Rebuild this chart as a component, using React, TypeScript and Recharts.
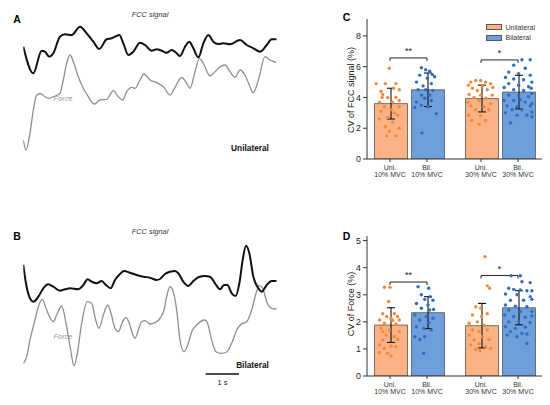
import React from "react";
import {
  LineChart,
  Line,
  XAxis,
  YAxis,
  ComposedChart,
  Bar,
  ErrorBar,
  Scatter,
  ReferenceLine,
} from "recharts";

// ---- traces (time in s, amplitude in arbitrary units) ----
const fccUniTrace = [
  [0, 15.33], [0.3, 12.67], [0.55, 14.93], [0.65, 14.83], [0.78, 14.33], [0.9, 14.67],
  [1.1, 16.33], [1.25, 16.57], [1.45, 16.5], [1.7, 17.33], [1.9, 16.67], [2.1, 15.83],
  [2.28, 15.1], [2.5, 16.07], [2.65, 16.17], [2.75, 16.33], [2.88, 16.5], [3.0, 15.67],
  [3.15, 14.5], [3.3, 14.83], [3.5, 15.73], [3.65, 15.5], [3.85, 14.93], [4.0, 15.07],
  [4.15, 14.93], [4.3, 14.73], [4.45, 15.0], [4.6, 14.67], [4.7, 14.4], [4.85, 15.33],
  [4.98, 15.83], [5.1, 15.17], [5.25, 14.27], [5.4, 15.67], [5.55, 16.5], [5.7, 15.83],
  [5.85, 15.6], [6.0, 15.67], [6.2, 15.57], [6.5, 16.0], [6.7, 15.5], [6.9, 15.17],
  [7.1, 14.83], [7.3, 15.5], [7.45, 16.07], [7.6, 16.07],
];
const forceUniTrace = [
  [0, 6.0], [0.08, 5.0], [0.2, 6.67], [0.3, 9.0], [0.4, 10.5], [0.5, 10.67], [0.65, 10.33],
  [0.78, 10.17], [0.9, 10.33], [1.1, 10.67], [1.2, 12.0], [1.3, 13.67], [1.4, 14.5],
  [1.5, 13.83], [1.65, 12.33], [1.8, 11.17], [1.95, 10.33], [2.13, 9.6], [2.3, 10.0],
  [2.5, 10.07], [2.7, 10.93], [2.85, 10.33], [2.98, 10.0], [3.1, 10.83], [3.25, 11.27],
  [3.35, 11.17], [3.5, 12.0], [3.62, 12.6], [3.8, 12.0], [4.0, 11.73], [4.2, 11.33],
  [4.4, 10.5], [4.55, 11.27], [4.75, 12.27], [4.9, 11.67], [5.0, 11.17], [5.15, 12.83],
  [5.28, 14.17], [5.4, 13.67], [5.6, 12.4], [5.75, 12.83], [5.9, 13.33], [6.05, 13.5],
  [6.2, 12.83], [6.35, 12.27], [6.5, 13.0], [6.65, 12.5], [6.8, 11.33], [6.9, 10.73],
  [7.05, 12.0], [7.25, 14.33], [7.4, 14.0], [7.58, 13.77],
];
const fccBilTrace = [
  [0, 13.5], [0.08, 11.67], [0.18, 10.33], [0.3, 9.83], [0.45, 10.33], [0.6, 11.17],
  [0.75, 11.57], [0.9, 11.33], [1.1, 10.93], [1.25, 11.07], [1.4, 11.17], [1.65, 11.07],
  [1.8, 11.5], [1.93, 12.07], [2.05, 11.83], [2.2, 11.67], [2.35, 11.9], [2.48, 11.5],
  [2.62, 11.17], [2.75, 12.0], [2.9, 12.6], [3.02, 12.9], [3.2, 12.73], [3.4, 12.5],
  [3.6, 12.33], [3.8, 12.23], [4.0, 12.0], [4.1, 12.1], [4.25, 12.6], [4.4, 12.83],
  [4.55, 12.9], [4.65, 12.67], [4.8, 11.83], [4.95, 11.4], [5.1, 11.9], [5.25, 12.27],
  [5.45, 12.4], [5.6, 12.33], [5.75, 11.67], [5.9, 11.07], [6.02, 11.5], [6.12, 11.5],
  [6.25, 10.67], [6.37, 10.4], [6.48, 11.67], [6.58, 14.0], [6.68, 15.43], [6.78, 14.67],
  [6.9, 12.33], [7.05, 11.17], [7.15, 10.83], [7.3, 11.5], [7.45, 11.9], [7.6, 11.9],
];
const forceBilTrace = [
  [0, 3.67], [0.1, 4.33], [0.2, 6.0], [0.35, 8.0], [0.45, 9.33], [0.57, 10.07], [0.7, 9.0],
  [0.9, 7.83], [1.02, 8.67], [1.15, 9.4], [1.3, 7.33], [1.42, 5.0], [1.52, 3.43],
  [1.62, 4.67], [1.75, 7.67], [1.92, 9.83], [2.05, 9.67], [2.17, 8.0], [2.27, 7.17],
  [2.4, 8.5], [2.53, 9.5], [2.63, 8.67], [2.75, 7.17], [2.85, 6.83], [2.98, 7.83],
  [3.08, 8.27], [3.18, 7.67], [3.27, 6.67], [3.35, 6.17], [3.45, 7.0], [3.55, 7.83],
  [3.65, 7.93], [3.8, 7.6], [3.95, 7.73], [4.12, 8.27], [4.22, 9.0], [4.3, 10.33],
  [4.4, 11.33], [4.48, 11.0], [4.6, 9.0], [4.7, 6.0], [4.82, 4.83], [4.95, 5.67],
  [5.05, 6.83], [5.2, 7.5], [5.45, 8.0], [5.52, 7.73], [5.65, 6.0], [5.78, 4.83],
  [5.95, 4.67], [6.1, 4.8], [6.27, 5.83], [6.4, 7.0], [6.53, 7.57], [6.7, 7.83],
  [6.85, 9.0], [6.98, 10.67], [7.07, 11.43], [7.18, 11.17], [7.3, 9.83], [7.45, 9.17],
  [7.6, 9.1],
];

// ---- bar panels ----
const groups = ["10% MVC", "30% MVC"];
const conditionLabels = ["Uni.", "Bil.", "Uni.", "Bil."];
const mvcLabels = ["10% MVC", "10% MVC", "30% MVC", "30% MVC"];

const fccUniMean = [3.6, 3.93];
const fccUniSd = [1.0, 0.87];
const fccBilMean = [4.5, 4.35];
const fccBilSd = [1.09, 1.09];
const forceUniMean = [1.88, 1.86];
const forceUniSd = [0.64, 0.82];
const forceBilMean = [2.34, 2.52];
const forceBilSd = [0.59, 0.63];

// individual subjects: [jitter as fraction of bar width, value]
const fccUni10 = [
  [-0.02, 5.9], [-0.42, 4.9], [-0.14, 4.9], [0.18, 4.9], [-0.27, 4.4], [0.11, 4.6],
  [-0.22, 4.2], [-0.07, 4.0], [0.18, 4.0], [0.28, 3.8], [-0.32, 3.7], [0.08, 3.7],
  [-0.17, 3.4], [0.28, 3.4], [-0.27, 3.1], [0.13, 3.0], [-0.07, 2.7], [0.23, 2.85],
  [-0.32, 2.6], [0.08, 2.4], [-0.14, 2.1], [0.28, 2.0], [-0.02, 1.8], [0.18, 1.5],
  [-0.1, 1.5], [0.28, 4.5], [-0.24, 4.0], [0.03, 3.2],
];
const fccBil10 = [
  [-0.17, 5.93], [-0.04, 5.8], [0.08, 5.7], [0.16, 5.5], [-0.22, 5.45], [0.23, 5.35],
  [0.01, 5.25], [-0.32, 5.0], [0.13, 4.9], [-0.12, 4.75], [-0.27, 4.5], [0.18, 4.45],
  [-0.17, 4.15], [0.08, 4.15], [-0.07, 3.95], [-0.32, 3.7], [0.13, 3.8], [-0.17, 3.5],
  [0.03, 3.4], [-0.37, 3.35], [0.28, 2.95], [-0.15, 1.7], [-0.04, 4.5],
];
const fccUni30 = [
  [-0.31, 5.0], [-0.16, 5.1], [-0.01, 5.1], [0.14, 5.0], [0.29, 4.9], [-0.38, 4.8],
  [0.04, 4.75], [-0.26, 4.6], [0.36, 4.65], [-0.11, 4.45], [0.19, 4.5], [-0.36, 4.2],
  [-0.01, 4.15], [0.34, 4.15], [-0.21, 4.0], [0.14, 3.95], [-0.4, 3.7], [-0.06, 3.8],
  [0.29, 3.6], [-0.31, 3.45], [0.09, 3.4], [-0.16, 3.2], [0.24, 3.2], [-0.38, 2.85],
  [-0.01, 2.8], [-0.28, 2.5], [0.14, 2.5], [-0.06, 2.25],
];
const fccBil30 = [
  [0.12, 6.45], [0.37, 6.45], [-0.13, 6.1], [0.22, 5.9], [-0.28, 5.65], [0.02, 5.55],
  [0.37, 5.45], [-0.38, 5.3], [-0.13, 5.2], [0.17, 5.15], [0.42, 5.0], [-0.28, 4.9],
  [0.02, 4.8], [0.32, 4.7], [-0.42, 4.65], [-0.13, 4.5], [0.17, 4.45], [0.42, 4.25],
  [-0.28, 4.15], [0.02, 4.1], [0.32, 4.05], [-0.42, 3.8], [-0.13, 3.8], [0.22, 3.7],
  [0.42, 3.6], [-0.33, 3.45], [-0.03, 3.4], [0.37, 3.45], [-0.18, 3.2], [0.12, 3.2],
  [0.42, 3.05], [-0.38, 3.0], [-0.03, 2.85], [0.27, 2.85], [0.42, 2.75], [-0.23, 2.35],
  [0.07, 3.85], [0.4, 4.6],
];
const forceUni10 = [
  [-0.17, 3.28], [0.0, 3.28], [-0.04, 2.75], [-0.22, 2.3], [0.13, 2.3], [-0.1, 2.2],
  [0.03, 2.13], [0.23, 2.2], [-0.32, 2.07], [0.08, 2.05], [0.28, 2.07], [-0.17, 1.95],
  [0.18, 1.92], [-0.27, 1.76], [-0.02, 1.7], [0.28, 1.64], [-0.12, 1.51], [0.13, 1.45],
  [-0.22, 1.33], [0.23, 1.35], [-0.32, 1.15], [0.03, 1.1], [-0.17, 1.02], [-0.07, 0.84],
  [-0.32, 0.86], [0.03, 0.74], [0.18, 1.08], [-0.22, 1.64],
];
const forceBil10 = [
  [-0.27, 3.3], [0.05, 3.24], [-0.17, 3.0], [0.1, 2.93], [-0.07, 2.83], [0.18, 2.8],
  [-0.32, 2.68], [0.03, 2.62], [-0.17, 2.5], [0.2, 2.46], [-0.37, 2.25], [-0.02, 2.2],
  [0.18, 2.13], [-0.22, 2.07], [0.06, 1.97], [-0.32, 1.82], [-0.1, 1.76], [0.13, 1.7],
  [-0.37, 1.45], [-0.07, 1.45], [-0.22, 1.35], [-0.1, 0.84], [0.08, 2.44],
];
const forceUni30 = [
  [0.12, 4.41], [0.19, 3.33], [0.26, 3.24], [-0.16, 2.56], [-0.01, 2.5], [0.19, 2.3],
  [-0.26, 2.25], [0.02, 2.2], [-0.11, 2.0], [-0.36, 1.95], [0.09, 1.88], [-0.26, 1.7],
  [-0.06, 1.64], [0.19, 1.7], [-0.36, 1.51], [0.04, 1.45], [-0.21, 1.33], [0.24, 1.35],
  [-0.06, 1.2], [-0.31, 1.15], [0.14, 1.08], [-0.16, 0.99], [-0.03, 0.93], [0.29, 1.02],
];
const forceBil30 = [
  [-0.21, 3.7], [0.07, 3.7], [0.12, 3.48], [0.37, 3.45], [-0.28, 3.24], [-0.13, 3.2],
  [0.07, 3.18], [0.27, 3.15], [0.42, 3.15], [-0.38, 3.03], [-0.03, 3.0], [0.37, 2.93],
  [-0.23, 2.8], [0.17, 2.8], [0.42, 2.83], [-0.38, 2.62], [-0.08, 2.58], [0.27, 2.56],
  [-0.28, 2.44], [0.07, 2.38], [0.42, 2.38], [-0.4, 2.25], [-0.13, 2.2], [0.22, 2.17],
  [0.42, 2.22], [-0.28, 2.0], [0.02, 2.0], [0.37, 1.97], [-0.38, 1.82], [-0.08, 1.76],
  [0.22, 1.8], [-0.23, 1.64], [0.12, 1.58], [-0.33, 1.51], [-0.03, 1.45], [0.27, 1.55],
  [0.27, 1.2],
];

const sigLabels = ["**", "*"];
const fccBracket = [6.57, 6.44];
const forceBracket = [3.47, 3.71];

// ---- styling / layout ----
const FONT = '"Liberation Sans", Arial, sans-serif';
const UNI_FILL = "#FBB285";
const BIL_FILL = "#6E9EDB";
const UNI_DOT = "#F4893A";
const BIL_DOT = "#2E6DC0";
const BAND = 91;
const BAR = 33;
const GAP = 4;
const PAD = -3.5;
const barFrac = BAR / BAND;
const barCenter = (g: number, b: number) =>
  g + (Math.floor((BAND - 2 * BAR - GAP) / 2) + BAR / 2 + b * (BAR + GAP)) / BAND;
const tickPos = [barCenter(0, 0), barCenter(0, 1), barCenter(1, 0), barCenter(1, 1)];

const toPts = (arr: number[][]) => arr.map(([t, v]) => ({ t, v }));
const toDots = (arr: number[][], g: number, b: number) =>
  arr.map(([j, y]) => ({ x: barCenter(g, b) + j * barFrac, y }));

const Txt = ({ x, y, children, style, rotate }: any) => (
  <div
    style={{
      position: "absolute",
      left: x,
      top: y,
      transform: `translate(-50%, -50%)${rotate ? ` rotate(${rotate}deg)` : ""}`,
      whiteSpace: "nowrap",
      lineHeight: 1,
      ...style,
    }}
  >
    {children}
  </div>
);

const BarTick = ({ x, y, payload }: any) => {
  let i = tickPos.findIndex((p) => Math.abs(p - payload.value) < 1e-6);
  if (i < 0) i = 0;
  return (
    <g>
      <text x={x} y={y + 5.5} textAnchor="middle" fontSize={7} fill="#333">
        {conditionLabels[i]}
      </text>
      <text x={x} y={y + 12.8} textAnchor="middle" fontSize={7} fill="#333">
        {mvcLabels[i]}
      </text>
    </g>
  );
};

const Dot = (color: string) => (p: any) => <circle cx={p.cx} cy={p.cy} r={1.7} fill={color} />;

const TracePanel = ({ fcc, force, top, scale }: any) => (
  <div style={{ position: "absolute", left: 0, top }}>
    <LineChart width={290} height={200} margin={{ top: 0, right: 13.3, bottom: 0, left: 23.3 }}>
      <XAxis type="number" dataKey="t" domain={[0, 7.6]} hide allowDataOverflow />
      <YAxis type="number" domain={[0, 20]} hide allowDataOverflow />
      <Line data={toPts(force)} dataKey="v" type="monotone" stroke="#8e8e8e" strokeWidth={1.3} dot={false} isAnimationActive={false} />
      <Line data={toPts(fcc)} dataKey="v" type="monotone" stroke="#111" strokeWidth={2} dot={false} isAnimationActive={false} />
      {scale && (
        <ReferenceLine
          segment={[{ x: 5.47, y: 2.6 }, { x: 6.47, y: 2.6 }]}
          stroke="#111"
          strokeWidth={1.6}
        />
      )}
    </LineChart>
  </div>
);

const BarPanel = ({ top, uniMean, uniSd, bilMean, bilSd, dots, yMax, yTicks, brackets }: any) => {
  const data = groups.map((g, i) => ({
    group: g,
    uni: uniMean[i],
    uniSd: uniSd[i],
    bil: bilMean[i],
    bilSd: bilSd[i],
  }));
  return (
    <div style={{ position: "absolute", left: 300, top }}>
      <ComposedChart width={250} height={200} data={data} barGap={GAP} margin={{ top: 19, right: 8, bottom: 0, left: 0 }}>
        <XAxis xAxisId="cat" dataKey="group" orientation="top" hide padding={{ left: PAD, right: PAD }} />
        <XAxis
          xAxisId="num"
          type="number"
          dataKey="x"
          domain={[0, 2]}
          allowDataOverflow
          ticks={tickPos}
          interval={0}
          padding={{ left: PAD, right: PAD }}
          height={41}
          tickSize={3}
          tick={<BarTick />}
          axisLine={{ stroke: "#333" }}
          tickLine={{ stroke: "#333" }}
        />
        <YAxis
          yAxisId="bar"
          type="number"
          domain={[0, yMax]}
          allowDataOverflow
          ticks={yTicks}
          width={67}
          tickSize={4}
          tick={{ fontSize: 8.8, fill: "#222" }}
          axisLine={{ stroke: "#333" }}
          tickLine={{ stroke: "#333" }}
        />
        <YAxis yAxisId="pts" dataKey="y" type="number" domain={[0, yMax]} allowDataOverflow hide />
        <Bar xAxisId="cat" yAxisId="bar" dataKey="uni" barSize={BAR} fill={UNI_FILL} stroke="#555" strokeWidth={0.8} isAnimationActive={false}>
          <ErrorBar dataKey="uniSd" width={4} stroke="#111" strokeWidth={1.1} direction="y" />
        </Bar>
        <Bar xAxisId="cat" yAxisId="bar" dataKey="bil" barSize={BAR} fill={BIL_FILL} stroke="#555" strokeWidth={0.8} isAnimationActive={false}>
          <ErrorBar dataKey="bilSd" width={4} stroke="#111" strokeWidth={1.1} direction="y" />
        </Bar>
        <Scatter xAxisId="num" yAxisId="pts" data={[...toDots(dots[0], 0, 0), ...toDots(dots[2], 1, 0)]} shape={Dot(UNI_DOT)} isAnimationActive={false} />
        <Scatter xAxisId="num" yAxisId="pts" data={[...toDots(dots[1], 0, 1), ...toDots(dots[3], 1, 1)]} shape={Dot(BIL_DOT)} isAnimationActive={false} />
        {brackets.map((b: number, g: number) => {
          const x1 = barCenter(g, 0);
          const x2 = barCenter(g, 1);
          const drop = (yMax / 140) * 3;
          return [
            <ReferenceLine
              key={`h${g}`}
              xAxisId="num"
              yAxisId="bar"
              segment={[{ x: x1, y: b }, { x: x2, y: b }]}
              stroke="#222"
              strokeWidth={1}
              label={{ value: sigLabels[g], position: "top", offset: 4, fontSize: 9, fill: "#111" }}
            />,
            <ReferenceLine key={`l${g}`} xAxisId="num" yAxisId="bar" segment={[{ x: x1, y: b }, { x: x1, y: b - drop }]} stroke="#222" strokeWidth={1} />,
            <ReferenceLine key={`r${g}`} xAxisId="num" yAxisId="bar" segment={[{ x: x2, y: b }, { x: x2, y: b - drop }]} stroke="#222" strokeWidth={1} />,
          ];
        })}
      </ComposedChart>
    </div>
  );
};

export default function App() {
  return (
    <div
      style={{
        position: "absolute",
        left: 0,
        top: 0,
        width: 550,
        height: 405,
        background: "#fff",
        fontFamily: FONT,
        overflow: "hidden",
      }}
    >
      <TracePanel fcc={fccUniTrace} force={forceUniTrace} top={0} />
      <TracePanel fcc={fccBilTrace} force={forceBilTrace} top={200} scale />

      <BarPanel
        top={0}
        uniMean={fccUniMean}
        uniSd={fccUniSd}
        bilMean={fccBilMean}
        bilSd={fccBilSd}
        dots={[fccUni10, fccBil10, fccUni30, fccBil30]}
        yMax={9.1}
        yTicks={[0, 2, 4, 6, 8]}
        brackets={fccBracket}
      />
      <BarPanel
        top={217}
        uniMean={forceUniMean}
        uniSd={forceUniSd}
        bilMean={forceBilMean}
        bilSd={forceBilSd}
        dots={[forceUni10, forceBil10, forceUni30, forceBil30]}
        yMax={5.17}
        yTicks={[0, 1, 2, 3, 4, 5]}
        brackets={forceBracket}
      />

      {/* panel letters */}
      <Txt x={17} y={18.5} style={{ fontWeight: "bold", fontSize: 10.5 }}>A</Txt>
      <Txt x={17} y={235.5} style={{ fontWeight: "bold", fontSize: 10.5 }}>B</Txt>
      <Txt x={346.5} y={17} style={{ fontWeight: "bold", fontSize: 10.5 }}>C</Txt>
      <Txt x={346.5} y={236} style={{ fontWeight: "bold", fontSize: 10.5 }}>D</Txt>

      {/* trace annotations */}
      <Txt x={150} y={15} style={{ fontStyle: "italic", fontSize: 7.4, color: "#333" }}>FCC signal</Txt>
      <Txt x={63} y={99} style={{ fontStyle: "italic", fontSize: 7.4, color: "#999" }}>Force</Txt>
      <Txt x={250} y={148} style={{ fontWeight: "bold", fontSize: 8.3, color: "#111" }}>Unilateral</Txt>
      <Txt x={150} y={232} style={{ fontStyle: "italic", fontSize: 7.4, color: "#333" }}>FCC signal</Txt>
      <Txt x={63} y={337} style={{ fontStyle: "italic", fontSize: 7.4, color: "#999" }}>Force</Txt>
      <Txt x={252.5} y={365} style={{ fontWeight: "bold", fontSize: 8.3, color: "#111" }}>Bilateral</Txt>
      <Txt x={222.5} y={383} style={{ fontSize: 7.4, color: "#111" }}>1 s</Txt>

      {/* axis titles */}
      <Txt x={350.5} y={90} rotate={-90} style={{ fontSize: 9, color: "#222" }}>CV of FCC signal (%)</Txt>
      <Txt x={350.5} y={304} rotate={-90} style={{ fontSize: 9, color: "#222" }}>CV of Force (%)</Txt>

      {/* legend */}
      {[
        { label: "Unilateral", color: UNI_FILL, y: 26.7 },
        { label: "Bilateral", color: BIL_FILL, y: 37 },
      ].map((l) => (
        <React.Fragment key={l.label}>
          <div
            style={{
              position: "absolute",
              left: 486,
              top: l.y - 2.5,
              width: 14,
              height: 4,
              background: l.color,
              border: "0.8px solid #555",
            }}
          />
          <div
            style={{
              position: "absolute",
              left: 505.5,
              top: l.y,
              transform: "translateY(-50%)",
              fontSize: 7,
              lineHeight: 1,
              color: "#333",
              whiteSpace: "nowrap",
            }}
          >
            {l.label}
          </div>
        </React.Fragment>
      ))}
    </div>
  );
}
